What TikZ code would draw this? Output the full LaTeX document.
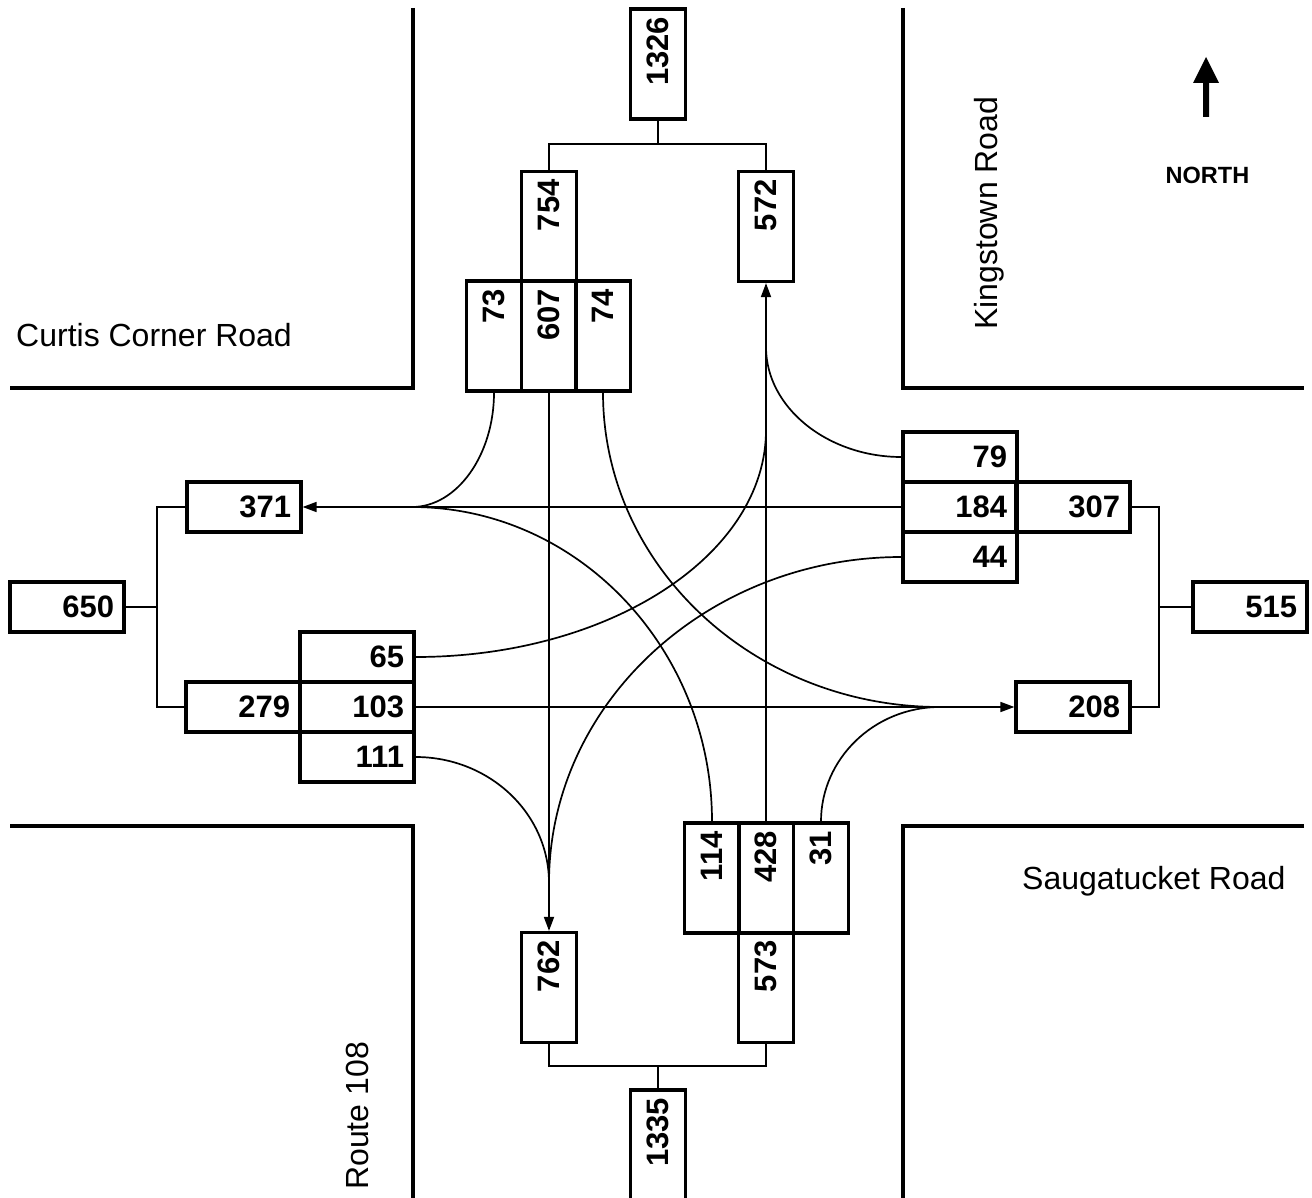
\documentclass[tikz,border=0pt]{standalone}
\usepackage{fontspec}
\setmainfont{Liberation Sans}
\usetikzlibrary{arrows.meta}
\newcommand\flownum{\bfseries\fontsize{31}{36}\selectfont}
\begin{document}
\begin{tikzpicture}[x=1pt,y=-1pt,
  road/.style={line width=3.6pt},
  hcell/.style={draw, line width=3.2pt, minimum width=114pt, minimum height=50pt, inner xsep=10pt, inner ysep=0pt, text width=94pt, align=right, font=\flownum},
  vcell/.style={draw, line width=3.2pt, rotate=90, minimum width=110pt, minimum height=55pt, inner xsep=8pt, inner ysep=0pt, text width=94pt, align=right, font=\flownum},
  flow/.style={line width=1.7pt},
  arr/.style={flow, -{Triangle[length=14pt,width=10pt]}},
  bracket/.style={line width=1.4pt},
  roadname/.style={font=\fontsize{32}{38}\selectfont, inner sep=0pt}
]
\useasboundingbox (0,0) rectangle (1312,1198);
\fill[white] (0,0) rectangle (1312,1198);
\clip (0,0) rectangle (1312,1198);

% roads
\draw[road] (413,8) -- (413,388) -- (10,388);
\draw[road] (903,8) -- (903,388) -- (1304,388);
\draw[road] (10,826) -- (413,826) -- (413,1205);
\draw[road] (1304,826) -- (903,826) -- (903,1205);

% road names
\node[roadname, anchor=base west] (curtis) at (16,347) {Curtis Corner Road};
\node[roadname, anchor=base west] (saug) at (1022,889) {Saugatucket Road};
\node[roadname, anchor=base west, rotate=90] (king) at (997,330) {Kingstown Road};
\node[roadname, anchor=base west, rotate=90] (route) at (368,1190) {Route 108};

% north arrow
\fill (1203,117) -- (1203,83) -- (1193,83) -- (1206,57) -- (1219,83) -- (1209,83) -- (1209,117) -- cycle;
\node[font=\bfseries\fontsize{23.5}{28}\selectfont, anchor=base, inner sep=0pt] (north) at (1207.5,184) {NORTH};

% horizontal boxes
\node[hcell] (b371) at (244,507) {371};
\node[hcell] (b650) at (67,607) {650};
\node[hcell] (b65) at (357,657) {65};
\node[hcell] (b103) at (357,707) {103};
\node[hcell] (b279) at (243,707) {279};
\node[hcell] (b111) at (357,757) {111};
\node[hcell] (b79) at (960,457) {79};
\node[hcell] (b184) at (960,507) {184};
\node[hcell] (b307) at (1073,507) {307};
\node[hcell] (b44) at (960,557) {44};
\node[hcell] (b515) at (1250,607) {515};
\node[hcell] (b208) at (1073,707) {208};

% vertical boxes
\node[vcell] (b1326) at (658,64) {1326};
\node[vcell] (b754) at (549,226.5) {754};
\node[vcell] (b572) at (766,226.5) {572};
\node[vcell] (b73) at (494,336) {73};
\node[vcell] (b607) at (549,336) {607};
\node[vcell] (b74) at (603,336) {74};
\node[vcell] (b114) at (712,878) {114};
\node[vcell] (b428) at (766,878) {428};
\node[vcell] (b31) at (821,878) {31};
\node[vcell] (b762) at (549,987.5) {762};
\node[vcell] (b573) at (766,987.5) {573};
\node[vcell] (b1335) at (658,1145) {1335};

% merge points
\coordinate (m371) at (412,507);
\coordinate (m762) at (549,883);
\coordinate (m572a) at (766,430);
\coordinate (m572b) at (766,347);
\coordinate (m208) at (940,707);

% flows
\draw[flow] (b73.west) .. controls (494,455) and (457,507) .. (m371);
\draw[flow] (b114.east) .. controls (712,649) and (578,507) .. (m371);
\draw[arr] (b184.west) -- (b371.east);
\draw[arr] (b607.west) -- (b762.east);
\draw[flow] (b111.east) .. controls (489,757) and (549,813) .. (m762);
\draw[flow] (b44.west) .. controls (708,557) and (549,703) .. (m762);
\draw[arr] (b428.east) -- (b572.west);
\draw[flow] (b65.east) .. controls (608,657) and (766,556) .. (m572a);
\draw[flow] (b79.west) .. controls (828,457) and (766,408) .. (m572b);
\draw[arr] (b103.east) -- (b208.west);
\draw[flow] (b74.west) .. controls (603,566) and (754,707) .. (m208);
\draw[flow] (b31.east) .. controls (821,759) and (874,707) .. (m208);

% brackets
\coordinate (jt) at (658,144);
\draw[bracket] (b754.east) |- (jt) -| (b572.east);
\draw[bracket] (jt) -- (b1326.west);
\coordinate (jb) at (658,1066);
\draw[bracket] (b762.west) |- (jb) -| (b573.west);
\draw[bracket] (jb) -- (b1335.east);
\coordinate (jl) at (157,607);
\draw[bracket] (b371.west) -| (jl) |- (b279.west);
\draw[bracket] (jl) -- (b650.east);
\coordinate (jr) at (1159,607);
\draw[bracket] (b307.east) -| (jr) |- (b208.east);
\draw[bracket] (jr) -- (b515.west);
\end{tikzpicture}
\end{document}
